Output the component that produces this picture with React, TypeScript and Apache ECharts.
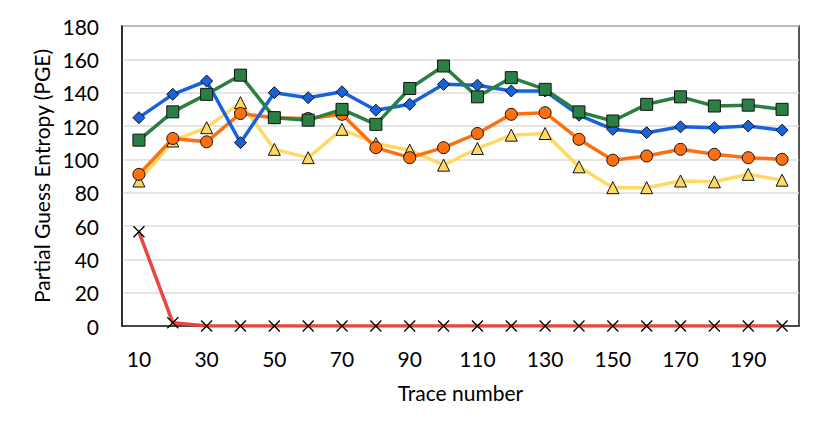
import React, { useEffect, useRef } from "react";
import * as echarts from "echarts";

const categories = ["10","20","30","40","50","60","70","80","90","100","110","120","130","140","150","160","170","180","190","200"];
const blueValues = [125, 139, 147, 110, 140, 137, 140.5, 129.5, 133, 145, 144.5, 141, 141, 126.5, 118, 116, 119.5, 119, 120, 117.5];
const greenValues = [111.5, 128.5, 139, 150.5, 125, 123.5, 130, 121, 142.5, 156, 137.5, 149, 142, 128.5, 123, 133, 137.5, 132, 132.5, 130];
const orangeValues = [91, 112.5, 110.5, 127.5, 125, 124.5, 127, 107, 101, 107, 115.5, 127, 128, 112, 99.5, 102, 106, 103, 101, 100];
const yellowValues = [87, 111, 119, 134, 106, 101, 118, 109.5, 105.5, 96.5, 106.5, 114.5, 115.5, 95.5, 83, 83, 87, 86.5, 91, 87.5];
const redValues = [56.5, 2, 0, 0, 0, 0, 0, 0, 0, 0, 0, 0, 0, 0, 0, 0, 0, 0, 0, 0];

const FONT = "Lato";

export default function App() {
  const ref = useRef<HTMLDivElement>(null);
  useEffect(() => {
    document.body.style.margin = "0";
    const chart = echarts.init(ref.current!, undefined, { renderer: "svg" });
    const mk = (name: string, data: number[], color: string, symbol: string, size: number) => ({
      name,
      type: "line",
      data,
      symbol,
      symbolSize: size,
      showAllSymbol: true,
      lineStyle: { color, width: 3.5 },
      itemStyle: { color, borderColor: "#111", borderWidth: 1 },
    });
    chart.setOption({
      animation: false,
      backgroundColor: "#fff",
      textStyle: { fontFamily: FONT },
      grid: { left: 122, right: 23, top: 26, bottom: 109, show: true, borderColor: "#222", borderWidth: 1.5, containLabel: false },
      xAxis: {
        type: "category",
        data: categories,
        boundaryGap: true,
        name: "Trace number",
        nameLocation: "middle",
        nameGap: 56,
        nameTextStyle: { color: "#000", fontSize: 21, fontFamily: FONT },
        axisLine: { show: true, lineStyle: { color: "#222", width: 1.5 } },
        axisTick: { show: false },
        axisLabel: { interval: 1, color: "#000", fontSize: 21, fontFamily: FONT, margin: 22 },
        splitLine: { show: false },
      },
      yAxis: {
        type: "value",
        min: 0,
        max: 180,
        interval: 20,
        name: "Partial Guess Entropy (PGE)",
        nameLocation: "middle",
        nameGap: 68,
        nameTextStyle: { color: "#000", fontSize: 21, fontFamily: FONT },
        axisLine: { show: true, lineStyle: { color: "#222", width: 1.5 } },
        axisTick: { show: false },
        axisLabel: { color: "#000", fontSize: 21, fontFamily: FONT, margin: 23 },
        splitLine: { show: true, lineStyle: { color: "#dcdcdc", width: 1.5 } },
      },
      series: [
        mk("Yellow", yellowValues, "#FFD966", "triangle", 12),
        mk("Orange", orangeValues, "#FF6F0F", "circle", 12),
        mk("Blue", blueValues, "#1863DC", "diamond", 12),
        mk("Green", greenValues, "#2A8042", "rect", 12),
        {
          name: "Red",
          type: "line",
          data: redValues,
          symbol: "path://M0,0L10,10M10,0L0,10",
          symbolSize: 11,
          showAllSymbol: true,
          lineStyle: { color: "#E8473B", width: 3.5 },
          itemStyle: { color: "transparent", borderColor: "#000", borderWidth: 1.3 },
        },
      ],
    });
    return () => chart.dispose();
  }, []);
  return <div ref={ref} style={{ width: 822, height: 435 }} />;
}
